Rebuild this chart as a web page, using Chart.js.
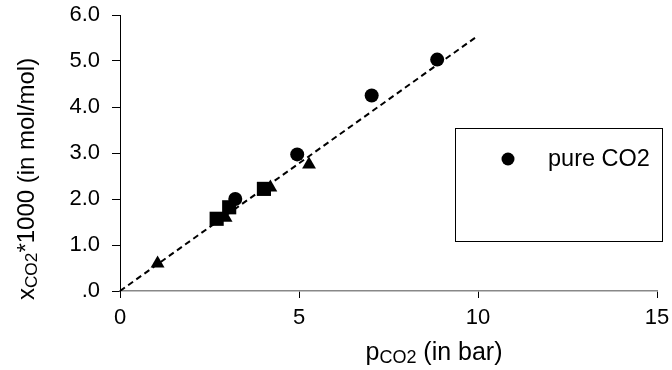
<!DOCTYPE html>
<html>
<head>
<meta charset="utf-8">
<script src="https://cdn.jsdelivr.net/npm/chart.js@4"></script>
<style>
  html, body { margin: 0; padding: 0; background: #fff; }
  #wrap { width: 672px; height: 370px; }
</style>
</head>
<body>
<div id="wrap"><canvas id="myChart"></canvas></div>
<script>
'use strict'

// ------------------------- Data -------------------------------------- //
const pureX = [3.22, 4.95, 7.03, 8.86];
const pureY = [2.00, 2.97, 4.25, 5.03];

const squareX = [2.70, 3.05, 4.02];
const squareY = [1.57, 1.82, 2.22];

const triangleX = [1.05, 2.95, 4.20, 5.28];
const triangleY = [0.60, 1.59, 2.25, 2.75];

const fitX = [0, 10];
const fitY = [0, 5.55];

const xTicks = [0, 5, 10, 15];
const yTicks = [0, 1, 2, 3, 4, 5, 6];

const legendLabel = 'pure CO2';
const FONT = '"Liberation Sans", Arial, sans-serif';

// ------------------------- Helpers -------------------------------------- //
function toPoints(xs, ys) {
    let arr = [];
    for (let i = 0; i < xs.length; i++) {
        arr.push({x: xs[i], y: ys[i]});
    }
    return arr;
}

// draws text with a subscript part: parts = [[text, isSub], ...]
function drawParts(ctx, parts, x, y, size, align) {
    let total = 0;
    for (let p of parts) {
        ctx.font = (p[1] ? size * 0.72 : size) + 'px ' + FONT;
        total += ctx.measureText(p[0]).width;
    }
    let start = align === 'center' ? x - total / 2 : x;
    for (let p of parts) {
        ctx.font = (p[1] ? size * 0.72 : size) + 'px ' + FONT;
        ctx.fillText(p[0], start, p[1] ? y + size * 0.22 : y);
        start += ctx.measureText(p[0]).width;
    }
}

const extrasPlugin = {
    id: 'extras',
    afterDraw(chart) {
        const ctx = chart.ctx;
        ctx.save();
        ctx.fillStyle = '#000';
        ctx.textBaseline = 'middle';
        ctx.textAlign = 'left';

        // x axis title
        drawParts(ctx, [['p', false], ['CO2', true], [' (in bar)', false]],
            434, 353, 25, 'center');

        // y axis title (rotated)
        ctx.translate(27, 179);
        ctx.rotate(-Math.PI / 2);
        drawParts(ctx, [['x', false], ['CO2', true], ['*1000 (in mol/mol)', false]],
            0, 0, 24, 'center');
        ctx.setTransform(1, 0, 0, 1, 0, 0);

        // legend box
        ctx.strokeStyle = '#000';
        ctx.lineWidth = 1;
        ctx.strokeRect(455.5, 128.5, 207, 113);
        ctx.beginPath();
        ctx.arc(508, 159, 6.5, 0, Math.PI * 2);
        ctx.fill();
        ctx.font = '23.5px ' + FONT;
        ctx.fillText(legendLabel, 548, 160);
        ctx.restore();
    }
};

// ------------------------- Chart -------------------------------------- //
const ctx = document.getElementById('myChart').getContext('2d');
const myChart = new Chart(ctx, {
    type: 'scatter',
    data: {
        datasets: [
            {
                label: 'fit',
                data: toPoints(fitX, fitY),
                showLine: true,
                borderColor: '#000',
                borderWidth: 2,
                borderDash: [6, 4],
                pointRadius: 0,
                order: 4
            },
            {
                label: legendLabel,
                data: toPoints(pureX, pureY),
                pointStyle: 'circle',
                pointRadius: 7,
                backgroundColor: '#000',
                borderColor: '#000',
                borderWidth: 0,
                order: 1
            },
            {
                label: 'squares',
                data: toPoints(squareX, squareY),
                pointStyle: 'rect',
                pointRadius: 10,
                backgroundColor: '#000',
                borderColor: '#000',
                borderWidth: 0,
                order: 2
            },
            {
                label: 'triangles',
                data: toPoints(triangleX, triangleY),
                pointStyle: 'triangle',
                pointRadius: 8,
                backgroundColor: '#000',
                borderColor: '#000',
                borderWidth: 0,
                order: 3
            }
        ]
    },
    options: {
        responsive: true,
        maintainAspectRatio: false,
        animation: false,
        layout: { padding: { top: 15, right: 15, left: 0, bottom: 0 } },
        plugins: {
            legend: { display: false },
            tooltip: { enabled: false }
        },
        scales: {
            x: {
                type: 'linear',
                min: 0,
                max: 15,
                afterFit: function (s) {
                    s.height = 79;
                    s.paddingLeft = 0;
                    s.paddingRight = 0;
                },
                afterBuildTicks: function (s) { s.ticks = xTicks.map(v => ({value: v})); },
                grid: { drawOnChartArea: false, drawTicks: true, tickLength: 7, tickColor: '#000' },
                border: { color: '#888', width: 1.5 },
                ticks: { color: '#000', font: { family: FONT, size: 22 }, padding: 7 }
            },
            y: {
                type: 'linear',
                min: 0,
                max: 6,
                afterFit: function (s) {
                    s.width = 120;
                    s.paddingTop = 0;
                    s.paddingBottom = 0;
                },
                afterBuildTicks: function (s) { s.ticks = yTicks.map(v => ({value: v})); },
                grid: { drawOnChartArea: false, drawTicks: true, tickLength: 8, tickColor: '#000' },
                border: { color: '#000', width: 1 },
                ticks: {
                    color: '#000',
                    font: { family: FONT, size: 22 },
                    padding: 12,
                    callback: function (v) { return v === 0 ? '.0' : v.toFixed(1); }
                }
            }
        }
    },
    plugins: [extrasPlugin]
});
</script>
</body>
</html>
